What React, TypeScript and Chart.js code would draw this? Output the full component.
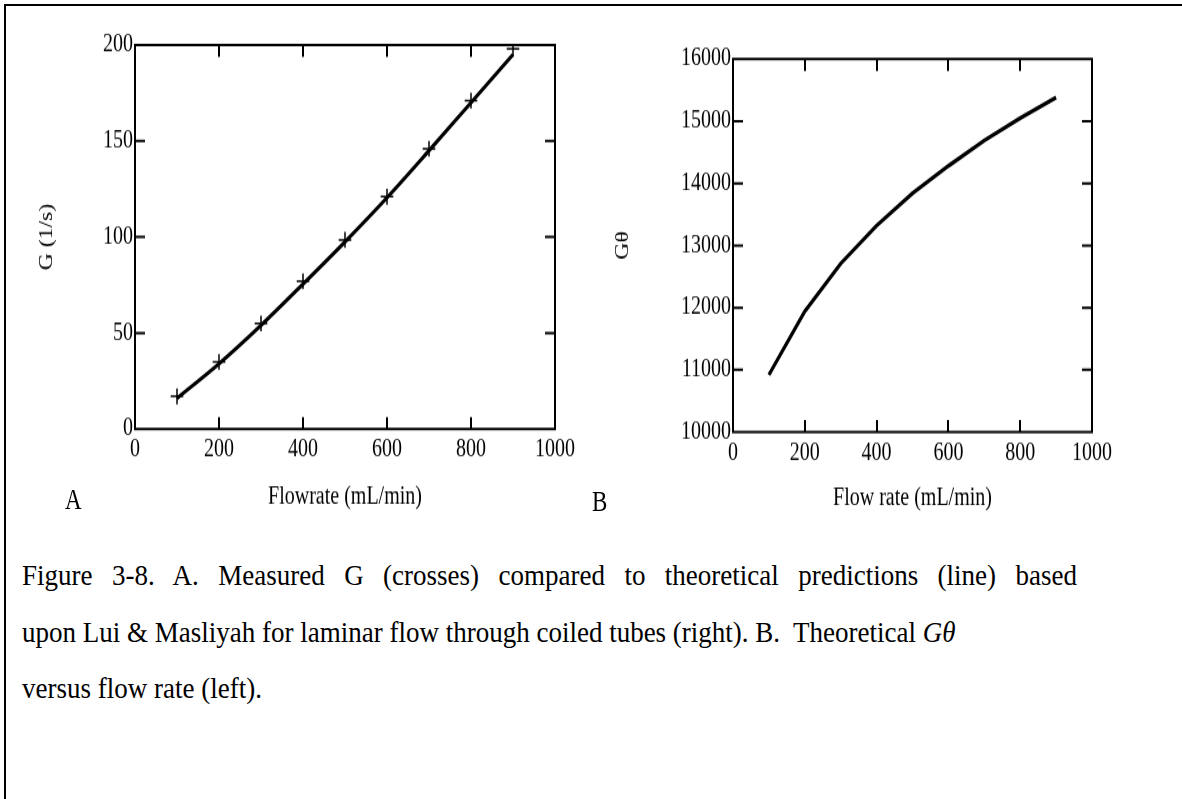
import React, { useEffect, useRef } from "react";
import { Chart, registerables } from "chart.js";

Chart.register(...registerables);

// ---- data ----
const flowRates = [100, 200, 300, 400, 500, 600, 700, 800, 900];
const measuredG = [17, 35, 55, 77, 98.5, 121, 146, 171, 198];
const theoreticalG = [16, 34, 54, 75.5, 97.5, 120.5, 145, 170, 195];
const gThetaValues = [10920, 11940, 12710, 13320, 13840, 14280, 14690, 15050, 15380];

const flowTicks = [0, 200, 400, 600, 800, 1000];
const gTicks = [0, 50, 100, 150, 200];
const gThetaTicks = [10000, 11000, 12000, 13000, 14000, 15000, 16000];

const SERIF = "'Liberation Serif', 'Times New Roman', serif";
const STRETCH = 1.25; // the source figure is stretched vertically

const frameTicks = {
  id: "frameTicks",
  beforeDatasetsDraw(chart: any) {
    const { ctx, chartArea, scales } = chart;
    const { left, right, top, bottom } = chartArea;
    const x = scales.x;
    const y = scales.y;
    const xLen = 9.5;
    const yLen = 10;
    ctx.save();
    ctx.strokeStyle = "#000";
    ctx.lineWidth = 2;
    ctx.strokeRect(left, top, right - left, bottom - top);
    ctx.beginPath();
    x.ticks.forEach((t: any) => {
      const px = Math.round(x.getPixelForValue(t.value));
      if (px > left + 2 && px < right - 2) {
        ctx.moveTo(px, bottom);
        ctx.lineTo(px, bottom - xLen);
        ctx.moveTo(px, top);
        ctx.lineTo(px, top + xLen);
      }
    });
    y.ticks.forEach((t: any) => {
      const py = y.getPixelForValue(t.value);
      if (py > top + 2 && py < bottom - 2) {
        ctx.moveTo(left, py);
        ctx.lineTo(left + yLen, py);
        ctx.moveTo(right, py);
        ctx.lineTo(right - yLen, py);
      }
    });
    ctx.stroke();
    ctx.restore();
  },
};

function axisX(title: string, height: number) {
  return {
    type: "linear",
    min: 0,
    max: 1000,
    afterBuildTicks: (s: any) => {
      s.ticks = flowTicks.map((v) => ({ value: v }));
    },
    afterFit: (s: any) => {
      s.height = height;
    },
    grid: { display: false, drawTicks: false },
    border: { display: false },
    ticks: {
      color: "#000",
      font: { family: SERIF, size: 20 },
      padding: 5,
      maxRotation: 0,
      autoSkip: false,
      callback: (v: any) => String(v),
    },
    title: {
      display: true,
      text: title,
      color: "#000",
      font: { family: SERIF, size: 20 },
      padding: { top: 0, bottom: 0 },
    },
  };
}

function axisY(title: string, min: number, max: number, ticks: number[], width: number) {
  return {
    type: "linear",
    min,
    max,
    afterBuildTicks: (s: any) => {
      s.ticks = ticks.map((v) => ({ value: v }));
    },
    afterFit: (s: any) => {
      s.width = width;
    },
    grid: { display: false, drawTicks: false },
    border: { display: false },
    ticks: {
      color: "#000",
      font: { family: SERIF, size: 20 },
      padding: 2,
      autoSkip: false,
      callback: (v: any) => String(v),
    },
    title: {
      display: true,
      text: title,
      color: "#000",
      font: { family: SERIF, size: 19 },
      padding: { top: 8, bottom: 0 },
    },
  };
}

function Stretched(props: { left: number; width: number; height: number; children: any }) {
  return (
    <div
      style={{
        position: "absolute",
        left: props.left,
        top: 0,
        width: props.width,
        height: props.height,
        transform: `scaleY(${STRETCH})`,
        transformOrigin: "top left",
      }}
    >
      {props.children}
    </div>
  );
}

function ChartA() {
  const ref = useRef<HTMLCanvasElement>(null);
  useEffect(() => {
    const chart = new Chart(ref.current as HTMLCanvasElement, {
      type: "line",
      data: {
        datasets: [
          {
            label: "Theoretical",
            data: flowRates.map((f, i) => ({ x: f, y: theoreticalG[i] })),
            borderColor: "#000",
            borderWidth: 3.2,
            pointRadius: 0,
            cubicInterpolationMode: "monotone",
            fill: false,
          },
          {
            label: "Measured",
            data: flowRates.map((f, i) => ({ x: f, y: measuredG[i] })),
            showLine: false,
            pointStyle: "cross",
            pointRadius: 6.3,
            pointBorderWidth: 1.5,
            borderColor: "#000",
            backgroundColor: "#000",
          },
        ],
      },
      options: {
        animation: false,
        responsive: false,
        events: [],
        layout: { padding: { left: 28, top: 36, right: 45, bottom: 6.4 } },
        plugins: { legend: { display: false }, tooltip: { enabled: false } },
        scales: {
          x: axisX("Flowrate (mL/min)", 66.4),
          y: axisY("G (1/s)", 0, 200, gTicks, 107),
        },
      } as any,
      plugins: [frameTicks],
    });
    return () => chart.destroy();
  }, []);
  return (
    <Stretched left={0} width={600} height={416}>
      <canvas ref={ref} width={600} height={416} style={{ width: 600, height: 416, display: "block" }} />
    </Stretched>
  );
}

function ChartB() {
  const ref = useRef<HTMLCanvasElement>(null);
  useEffect(() => {
    const chart = new Chart(ref.current as HTMLCanvasElement, {
      type: "line",
      data: {
        datasets: [
          {
            label: "Gθ",
            data: flowRates.map((f, i) => ({ x: f, y: gThetaValues[i] })),
            borderColor: "#000",
            borderWidth: 3.2,
            pointRadius: 0,
            tension: 0,
            fill: false,
          },
        ],
      },
      options: {
        animation: false,
        responsive: false,
        events: [],
        layout: { padding: { left: 13.6, top: 47.2, right: 90, bottom: 21.6 } },
        plugins: { legend: { display: false }, tooltip: { enabled: false } },
        scales: {
          x: axisX("Flow rate (mL/min)", 64.8),
          y: axisY("Gθ", 10000, 16000, gThetaTicks, 129.4),
        },
      } as any,
      plugins: [frameTicks],
    });
    return () => chart.destroy();
  }, []);
  return (
    <Stretched left={590} width={592} height={432}>
      <canvas ref={ref} width={592} height={432} style={{ width: 592, height: 432, display: "block" }} />
    </Stretched>
  );
}

const labelStyle: React.CSSProperties = {
  position: "absolute",
  fontFamily: SERIF,
  fontSize: 23,
  lineHeight: "24px",
  color: "#000",
  whiteSpace: "nowrap",
  transform: `scaleY(${STRETCH})`,
  transformOrigin: "center",
};

const captionStyle: React.CSSProperties = {
  position: "absolute",
  fontFamily: SERIF,
  fontSize: 27,
  lineHeight: "24px",
  color: "#000",
  whiteSpace: "nowrap",
  transform: "scaleY(1.08)",
  transformOrigin: "center",
};

const justified: React.CSSProperties = {
  textAlign: "justify",
  textAlignLast: "justify" as any,
};

export default function App() {
  return (
    <div
      style={{
        position: "absolute",
        left: 0,
        top: 0,
        width: 1182,
        height: 799,
        background: "#fff",
        overflow: "hidden",
      }}
    >
      <div
        style={{
          position: "absolute",
          left: 4,
          top: 4,
          width: 1200,
          height: 820,
          borderLeft: "2px solid #000",
          borderTop: "2px solid #000",
        }}
      />
      <ChartA />
      <ChartB />
      <div style={{ ...labelStyle, left: 65, top: 488 }}>A</div>
      <div style={{ ...labelStyle, left: 592, top: 490 }}>B</div>
      <div style={{ ...captionStyle, ...justified, left: 22, top: 563, width: 1055 }}>
        Figure 3-8. A. Measured G (crosses) compared to theoretical predictions (line) based
      </div>
      <div style={{ ...captionStyle, left: 22, top: 620 }}>
        upon Lui &amp; Masliyah for laminar flow through coiled tubes (right). B.&nbsp; Theoretical <i>Gθ</i>
      </div>
      <div style={{ ...captionStyle, left: 22, top: 676 }}>versus flow rate (left).</div>
    </div>
  );
}
